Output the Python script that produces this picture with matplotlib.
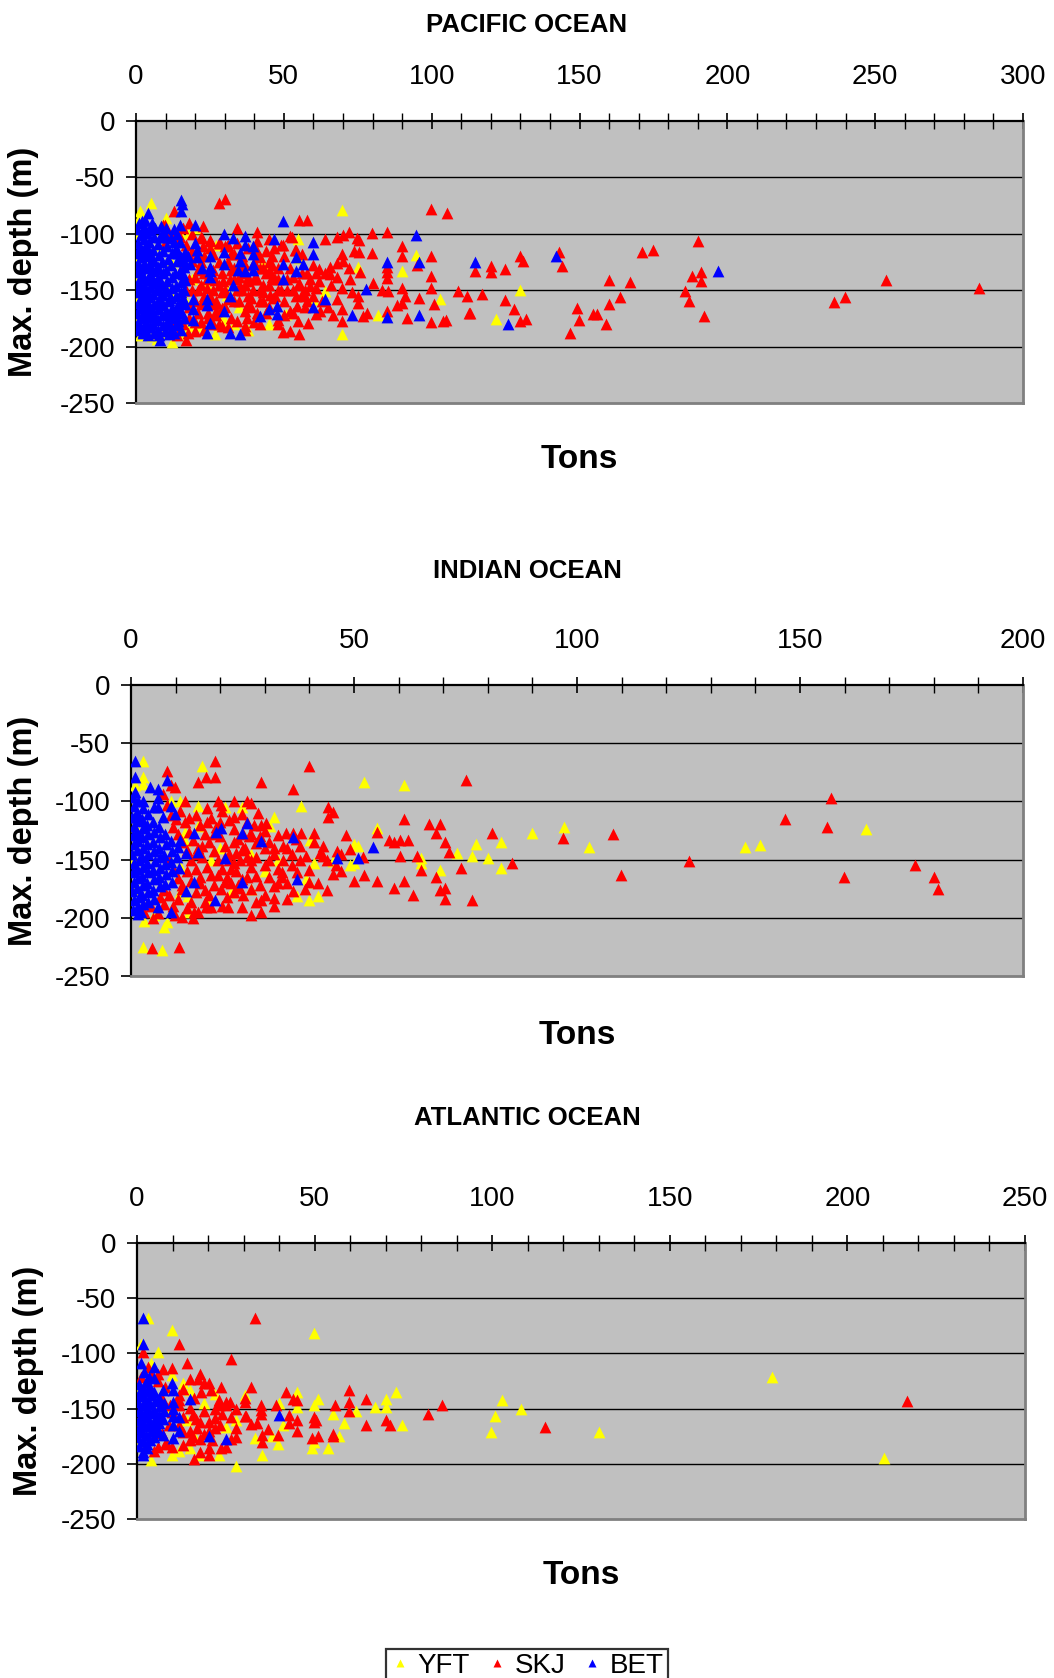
"""Max. fishing depth vs catch (tons) per set, by ocean and species (YFT/SKJ/BET).
Three stacked Excel-style scatter panels with the tonnage axis on top."""
import numpy as np
import matplotlib
matplotlib.use("Agg")
import matplotlib.pyplot as plt
from matplotlib.lines import Line2D
from matplotlib.ticker import MultipleLocator

plt.rcParams.update({"font.family": ["Liberation Sans", "DejaVu Sans"],
                     "axes.unicode_minus": False})

# ---------------- data: (tons, max depth in m) ----------------
PAC_YFT = [(5, -73), (1.4, -80), (0.8, -88), (0.3, -100), (0.2, -120), (0.2, -140), (0.3, -160),
           (0.4, -178), (1.5, -190), (5.5, -191), (12.1, -196), (9, -188), (13, -177), (16, -189),
           (18, -182), (21.6, -182), (26.7, -189), (29.3, -178), (29.3, -174), (14.9, -99.5),
           (18, -99.5), (10, -86), (11, -150), (17, -160), (19, -140), (30.7, -149), (30.7, -154),
           (27, -110), (35, -165), (38, -185), (43, -126), (55.1, -121.5), (54.9, -105), (45.1, -180),
           (50.7, -171.5), (59.8, -158), (63.9, -151), (69.8, -79), (69.8, -189), (75, -129.4),
           (81.7, -172.3), (89.9, -133), (94.7, -118.5), (102.8, -158.2), (121.7, -175.3),
           (130, -149.4), (12, -125), (8, -110), (22, -128), (3, -96), (7, -193), (20, -95),
           (24, -145), (33, -180)]
PAC_SKJ = [(17, -110), (18, -140), (19, -150), (20, -160), (21, -170), (22, -145), (23, -155),
           (24, -140), (26, -150), (27, -160), (28, -145), (29, -135), (30, -165), (31, -125),
           (32, -175), (33, -140), (34, -150), (35, -160), (36, -135), (37, -145), (38, -155),
           (39, -165), (40, -125), (41, -140), (42, -150), (43, -160), (44, -135), (45, -145),
           (46, -120), (47, -155), (48, -130), (49, -150), (50, -160), (51, -140), (52, -130),
           (53, -170), (55, -145), (57, -155), (58, -135), (61, -148), (26, -118), (28, -125),
           (31, -110), (33, -130), (36, -120), (38, -138), (41, -115), (43, -130), (46, -138),
           (23, -120), (21, -132), (19, -124), (20, -138), (22, -178), (27, -172), (29, -182),
           (33, -160), (37, -168), (40, -178), (44, -170), (48, -176), (16, -128), (17, -150),
           (18, -165), (16, -180), (14, -190), (12, -178), (11, -100), (13, -98), (22, -103),
           (25, -106), (28, -108), (30, -111), (34, -95), (41, -98), (45, -105), (49, -110),
           (52, -102), (54, -114), (55, -88), (58, -88), (12.9, -80), (28.2, -73), (30.1, -69.4),
           (99.8, -78), (105.1, -81.8), (63.9, -104.7), (67.9, -103), (70.1, -101), (72, -98.8),
           (74.6, -103.8), (75.3, -105.3), (79.9, -99.4), (84.8, -98.8), (89.9, -111),
           (89.9, -119.4), (94.9, -127.4), (99.8, -119.4), (79.9, -117), (69.8, -117.6),
           (73.7, -115.6), (75.3, -116.5), (75.8, -134), (84.8, -129.4), (84.8, -134), (84.8, -139),
           (99.8, -137.6), (60, -128), (62, -131), (65.6, -129), (67.9, -126), (70.1, -124.4),
           (72, -130), (65.6, -136), (67.9, -138), (72.4, -140), (80, -143.5), (83.1, -149.4),
           (85.3, -151), (89.9, -148), (91, -155.3), (95.8, -156.7), (99.8, -148), (109, -151),
           (111.8, -155.3), (100.9, -162.6), (112.7, -170), (88.2, -163.5), (89.9, -161),
           (84.8, -168.5), (91.5, -174.4), (99.8, -178.2), (104, -177.4), (105, -176.5),
           (78, -170.6), (76.9, -173), (69.8, -167), (69.8, -177), (66.7, -172), (75, -155),
           (75, -161), (69.8, -148), (72.9, -152), (62.2, -168.5), (61, -171.5), (54.9, -177),
           (58.1, -179), (55, -189), (49.8, -187), (52, -186), (55, -144), (57, -150), (59, -146),
           (56, -153), (54.3, -164), (48.1, -180.3), (41.9, -180.3), (36.9, -181.7), (37.4, -174.4),
           (20, -186), (16.9, -194.4), (24.5, -170), (24.5, -174.4), (27, -161), (29, -165.6),
           (31.8, -140), (35.2, -146.5), (38, -142), (39.7, -149.4), (43, -152), (45.3, -154),
           (46.4, -157), (29.5, -142), (26.7, -140.6), (40.8, -106.8), (42, -120.6), (45.3, -133.2),
           (46.8, -112.6), (25, -105.3), (25, -112.6), (28.4, -108.2), (30.7, -111.2),
           (22.2, -103.8), (22.8, -111.2), (9.2, -92), (9.8, -92), (22.8, -93.5), (49.8, -109.7),
           (52.7, -102.4), (53.8, -114), (9.2, -100.9), (9.8, -108.2),
           (15, -103), (16, -95), (18, -90), (19, -100), (21, -118), (22, -125), (23, -135),
           (24, -148), (25, -155), (26, -162), (27, -168), (28, -180), (30, -150), (31, -158),
           (32, -132), (33, -118), (34, -108), (35, -138), (36, -150), (37, -128), (38, -113),
           (39, -157), (40, -140), (41, -170), (42, -130), (43, -145), (44, -115), (45, -165),
           (46, -128), (47, -140), (48, -150), (50, -120), (51, -150), (52, -168), (53, -138),
           (54, -155), (56, -135), (57, -165), (59, -140), (60, -155), (62, -142), (63, -160),
           (64, -135), (66, -145), (68, -158), (18, -175), (20, -178), (23, -185), (26, -180),
           (31, -183), (34, -177), (37, -185), (17.5, -188), (19, -115), (21, -150), (22, -162),
           (26, -132), (29, -152), (32, -118), (35, -130), (38, -162), (42, -160), (45, -125),
           (48, -140), (50, -172), (53, -150), (56, -118), (58, -160), (61, -135), (65, -165),
           (114.8, -133.2), (119.9, -128.2), (119.9, -134.1), (124.9, -131.2), (130, -119.4),
           (130.9, -124.4), (116.9, -153), (124.9, -158.8), (127.9, -167), (130, -177.4),
           (132, -175.9), (113, -170), (143, -116.5), (144.1, -128.2), (160, -141.2), (167, -142.6),
           (163.8, -155.9), (160, -161.8), (149, -165.6), (149.9, -176.8), (154.7, -170.9),
           (156, -171.5), (159, -180.3), (146.9, -188.2), (171, -116.5), (175, -114.1),
           (190, -106.8), (188, -137.6), (191.2, -133.8), (191.2, -141.5), (185.8, -150.9),
           (187, -159.7), (192, -172.9), (236, -160.3), (239.8, -155.9), (253.8, -141.2),
           (285, -148.2)]
PAC_BET = [(0.4, -96), (0.6, -108), (0.3, -117), (0.7, -126), (0.4, -134), (0.6, -143), (0.3, -152),
           (0.7, -161), (0.4, -170), (0.6, -178), (0.5, -185), (1.6, -101), (1.4, -112), (1.7, -121),
           (1.3, -131), (1.6, -139), (1.4, -148), (1.7, -157), (1.3, -166), (1.6, -175), (1.5, -183),
           (2.6, -94), (2.8, -105), (2.4, -116), (2.7, -127), (2.5, -137), (2.8, -146), (2.4, -155),
           (2.7, -164), (2.5, -173), (2.6, -182), (2.3, -187), (3.7, -99), (3.5, -110), (3.8, -120),
           (3.4, -130), (3.6, -141), (3.7, -151), (3.5, -160), (3.8, -169), (3.4, -178), (4.7, -97),
           (4.5, -107), (4.8, -118), (4.4, -128), (4.6, -136), (4.9, -147), (4.5, -156), (4.7, -165),
           (4.4, -174), (4.7, -183), (6.1, -103), (5.8, -114), (6.2, -124), (5.9, -133), (6.3, -144),
           (5.8, -153), (6.1, -162), (6.0, -171), (5.9, -180), (6.2, -188), (7.4, -109), (7.7, -119),
           (7.3, -129), (7.6, -139), (7.5, -149), (7.8, -158), (7.3, -167), (7.6, -176), (7.4, -185),
           (8.8, -100), (9.1, -115), (8.9, -125), (9.2, -135), (8.7, -145), (9.0, -154), (9.3, -163),
           (8.8, -172), (9.1, -181), (10.4, -111), (10.7, -122), (10.3, -132), (10.6, -142),
           (10.5, -151), (10.8, -160), (10.4, -169), (10.6, -178), (11.9, -104), (12.2, -117),
           (11.8, -128), (12.1, -138), (12.3, -148), (11.9, -157), (12.2, -166), (12.0, -175),
           (12.1, -184), (13.4, -113), (13.7, -124), (13.3, -135), (13.6, -146), (13.5, -155),
           (13.8, -164), (13.4, -173), (13.6, -181), (15.0, -107), (15.2, -121), (14.8, -133),
           (15.1, -143), (15.3, -152), (14.9, -168), (16.6, -116), (16.4, -129), (16.7, -141),
           (16.5, -162), (1, -90), (2, -99), (3.2, -113), (5.3, -122), (6.8, -131), (8.2, -141),
           (9.7, -150), (11.2, -159), (12.7, -169), (14.2, -177), (1.1, -144), (3.1, -158),
           (5.2, -173), (7.9, -190), (9.8, -186), (13, -188), (14, -100), (12.8, -96), (10.2, -95),
           (8.3, -93), (6.5, -95), (5.5, -90), (3, -88), (8.1, -103), (10.1, -103), (12.9, -107),
           (14.3, -117), (16.1, -124), (15.8, -136), (16.3, -150), (15.9, -157), (16.2, -175),
           (5.4, -140), (6.9, -150), (8.3, -160), (9.7, -170), (11.1, -180), (4.1, -190),
           (15.1, -70), (15.5, -74), (15.1, -80), (4.2, -82), (1.9, -89), (14.9, -92),
           (20, -92), (8.1, -194), (11, -189), (15.1, -185), (2.3, -188), (4.7, -183), (14.9, -161),
           (15.4, -170), (20, -108), (20.5, -114), (20.5, -121), (17.7, -120), (18.3, -127),
           (22.2, -130), (25, -138), (25, -120), (25, -129), (25, -133), (24, -158), (24, -163),
           (19.4, -158), (19.4, -167), (19.4, -176), (25, -179), (24.1, -188), (29.9, -100),
           (32.9, -104), (36.9, -102), (46.8, -105), (49.8, -89), (29.9, -116), (29.9, -127),
           (35.2, -117), (35.2, -124), (36.9, -110), (39.7, -111), (39.7, -118), (34.6, -132),
           (36.9, -133), (39.7, -127), (39.7, -132), (32.9, -145), (31.8, -155), (29.9, -168),
           (31.8, -188), (35.2, -189), (42, -173), (45, -167), (47.6, -164), (47.6, -171),
           (49.8, -127), (49.8, -140), (54, -121), (56.6, -127), (54, -133), (59.8, -107),
           (59.8, -118), (64, -158), (59.8, -165), (72.9, -172), (77.8, -149), (84.8, -125),
           (84.8, -174), (94.7, -101), (95.8, -125), (95.8, -172), (114.8, -125), (125.8, -180),
           (142, -120), (197, -133)]

IND_YFT = [(2.8, -65.6), (16, -70), (2.8, -79.4), (2.8, -85), (52.3, -83.7), (61.3, -85.7),
           (38.2, -103.7), (21.1, -105), (24.9, -105), (32.1, -113), (31.1, -121), (40.1, -133),
           (55.1, -123), (90, -127), (97, -121.6), (77.3, -136.7), (82.9, -135), (49.9, -136.7),
           (50.9, -138.7), (73, -144.7), (76.4, -146.7), (80.1, -148.7), (82.9, -157), (65, -149),
           (65, -153), (69.3, -158.7), (45.2, -151), (49, -155), (50, -153), (41, -153),
           (39.2, -166.8), (40, -169), (37.3, -181), (40, -184.5), (42, -181), (26.8, -175.4),
           (22.5, -178), (13.1, -194.8), (2.6, -225), (7, -228), (7.4, -208), (102.8, -139.1),
           (137.7, -139.1), (141, -137.4), (164.9, -123.3), (0.9, -86), (0.9, -121), (0.5, -150),
           (0.6, -175), (9, -99.4), (10.9, -99.4), (15, -103.7), (15.1, -121), (12.1, -126.6),
           (12.1, -133.8), (10.9, -155.3), (10.9, -178), (12.7, -181), (5.2, -198), (18, -150),
           (20, -140), (27, -145), (30, -160), (33, -150), (17, -185), (8, -204), (3, -203)]
IND_SKJ = [(3, -195), (4.5, -190), (6, -196), (7.5, -188), (8.5, -180), (9.5, -190), (10.5, -184),
           (11.5, -175), (12.5, -192), (13.5, -186), (14.5, -178), (15.5, -170), (16.5, -186),
           (17.5, -180), (18.5, -172), (19.5, -163), (20.5, -190), (21.5, -182), (22.5, -170),
           (23.5, -160), (24.5, -150), (25.5, -140), (26.5, -130), (27.5, -120), (28.5, -110),
           (9.5, -122), (10.5, -128), (11.5, -135), (12.5, -142), (13.5, -150), (14.5, -158),
           (15.5, -165), (12, -118), (13, -126), (14, -133), (15, -140), (16, -148), (17, -156),
           (18, -163), (14.5, -112), (15.5, -120), (16.5, -128), (17.5, -135), (18.5, -143),
           (19.5, -150), (20.5, -158), (21.5, -165), (17, -106), (18, -114), (19, -122), (20, -130),
           (21, -138), (22, -145), (23, -153), (24, -172), (25, -180), (19.5, -100), (20.5, -108),
           (22, -116), (23, -124), (24, -132), (25, -140), (26, -148), (27, -156), (28, -164),
           (29, -172), (30, -180), (31, -150), (32, -140), (33, -158), (29, -130), (30, -140),
           (28, -148), (11, -108), (12, -100), (10, -115), (8, -103), (9, -112), (11.5, -199),
           (14, -200), (5, -200), (3.5, -188), (8, -73.6), (18.9, -65.6), (9, -86), (9.9, -87.4),
           (15, -83.7), (16.9, -79.4), (18.9, -79.4), (7.1, -93.7), (29.2, -83.7), (40, -69.3),
           (36.3, -89.4), (75, -81.7), (44.2, -105), (45.2, -109.5), (44.2, -113), (23.1, -99.4),
           (25.9, -99.4), (26.8, -101.4), (20.2, -103), (23.1, -113), (24.9, -111), (29.2, -120),
           (30.2, -118.6), (33, -129), (34.8, -127), (36.3, -127), (38.2, -127), (41, -127),
           (48.1, -129), (55.1, -126), (61.3, -115), (66.9, -119), (69.3, -119), (68.3, -127),
           (81, -127), (96.8, -131.3), (57.9, -133), (59, -134.7), (60.3, -133), (62.2, -133),
           (70.3, -135), (49.1, -141), (71.2, -143.3), (85.4, -153), (74, -157), (60.4, -146.7),
           (64.1, -146.7), (65, -158.7), (68.3, -165.3), (70.3, -174.8), (46.2, -143),
           (45.2, -162.5), (52.3, -163.3), (50, -168.8), (55.1, -168.8), (59, -174.8),
           (61.3, -168.8), (63.2, -180.5), (69.3, -176), (70.3, -184), (76.4, -184.5),
           (42.4, -144.4), (43, -146.7), (39.2, -146.7), (40, -158.7), (40, -169), (36.3, -176.8),
           (37.3, -161), (34.9, -184), (33.9, -161), (33.9, -165), (32.1, -172.5), (32.1, -182.8),
           (29.2, -184.5), (29.2, -194.8), (26.8, -198), (24.9, -191), (24.9, -167), (23.9, -174.8),
           (23.1, -177.6), (21.7, -191), (20.2, -175.4), (21.1, -169), (15.1, -194.8),
           (14.2, -194.8), (9.9, -198), (16.9, -191), (18, -191), (4.8, -226), (10.8, -225),
           (23, -135), (25, -142), (27, -128), (28, -136), (31, -135), (32, -145), (34, -150),
           (35, -140), (36, -155), (38, -138), (30, -155), (33, -170), (27, -150), (26, -165),
           (22, -150), (43, -138), (41, -135), (44, -150), (47, -145), (47, -160), (42, -170),
           (39, -175), (44, -176), (46, -155), (52, -148), (8.5, -150), (9.5, -158), (10.5, -166),
           (11.5, -172), (12.5, -160), (13.5, -168), (14.5, -145), (16, -138), (17, -118),
           (18.5, -128), (20, -118), (21, -148), (22.5, -158), (23.5, -144), (25, -128), (26, -118),
           (27, -175), (28, -186), (30, -125), (31, -165), (32, -190), (34, -138), (35, -170),
           (36, -145), (37, -132), (38, -150), (6.5, -182), (7.5, -176), (13, -114), (16.5, -176),
           (108, -127.6), (109.9, -163.2), (125, -151.1), (146.6, -115.2), (156.9, -97.4),
           (156, -121.6), (159.8, -165), (175.7, -154.9), (180, -165), (180.9, -175.3)]
IND_BET = [(0.4, -96), (0.6, -104), (0.3, -113), (0.7, -121), (0.4, -129), (0.6, -137), (0.3, -145),
           (0.7, -153), (0.4, -161), (0.6, -169), (0.3, -177), (0.7, -185), (0.5, -193), (1.6, -100),
           (1.4, -109), (1.7, -117), (1.3, -126), (1.6, -134), (1.4, -142), (1.7, -150), (1.3, -158),
           (1.6, -166), (1.4, -174), (1.7, -182), (1.5, -190), (1.6, -197), (2.7, -106), (2.5, -115),
           (2.8, -123), (2.4, -131), (2.7, -140), (2.5, -148), (2.8, -156), (2.4, -164), (2.7, -172),
           (2.5, -180), (2.6, -188), (3.8, -111), (3.6, -120), (3.9, -128), (3.5, -137), (3.8, -145),
           (3.6, -153), (3.9, -161), (3.5, -170), (3.8, -178), (3.7, -186), (5.0, -118), (5.2, -126),
           (4.9, -135), (5.1, -143), (5.3, -151), (4.9, -159), (5.2, -167), (5.0, -176), (5.1, -184),
           (6.3, -122), (6.5, -131), (6.2, -140), (6.6, -148), (6.4, -157), (6.2, -165), (6.5, -173),
           (7.6, -128), (7.8, -137), (7.5, -146), (7.7, -154), (7.9, -162), (7.6, -171), (9.0, -134),
           (9.2, -143), (8.9, -152), (9.1, -160), (9.3, -169), (10.5, -139), (10.4, -148),
           (10.7, -157), (0.9, -65.6), (0.9, -79.4), (8, -81.4), (4.3, -87.4), (6.1, -89.4),
           (0.9, -91.7), (2.8, -99.4), (5.2, -105), (6.1, -105), (9, -103.7), (6.1, -97.4),
           (7.1, -113), (0.9, -113), (9.9, -111), (14.2, -127), (19, -126.6), (20.2, -123),
           (24.9, -127), (25.9, -118.6), (10.9, -133), (15.1, -143.8), (12.4, -144.4), (21.1, -149),
           (14.1, -169), (12.4, -176.8), (18.9, -184.5), (9, -195.4), (6.1, -191), (2.2, -195.4),
           (24.9, -169), (29.2, -133.8), (36.3, -131), (37.3, -166.8), (46.3, -149), (50.9, -149),
           (54.2, -139)]

ATL_YFT = [(3, -67.5), (9.9, -79.2), (49.8, -81.3), (1.2, -91.3), (5.9, -99), (4, -109),
           (12.9, -126.5), (9.9, -120), (14.8, -133), (21.9, -136.4), (45.1, -134.6), (51, -141),
           (70, -141), (73, -134.6), (49.8, -147), (39.9, -144.6), (45.1, -148.8), (61.7, -152.4),
           (67, -148.8), (70, -148.8), (102.7, -142.5), (108, -150.6), (100.8, -156.6), (99.7, -171),
           (55.2, -154.5), (58.2, -162.7), (74.7, -164.5), (56.8, -174.7), (49.3, -186),
           (53.9, -186), (49.8, -180.7), (39.8, -182.5), (35.1, -192), (37.9, -174.7),
           (33.1, -176.5), (30.3, -138), (27.9, -202), (25, -166.6), (23.1, -192.2),
           (17.4, -191.6), (14.8, -186), (11.8, -188.6), (9.9, -192), (4, -196.7), (130, -170.8),
           (178.8, -121), (210.2, -194.6), (0.5, -130), (0.5, -160), (0.6, -182), (8, -150),
           (14, -160), (19, -145), (28, -160), (41, -165), (16, -175)]
ATL_SKJ = [(33.2, -67.5), (11.8, -91.3), (1.7, -99), (14.2, -109), (26.6, -104.8), (7.3, -113.9),
           (9.9, -113), (1.1, -121.4), (4, -119), (5.9, -119), (17.6, -119), (17.3, -123),
           (14.8, -123), (19, -126.5), (20.2, -126.5), (23.7, -130.7), (32, -130.7), (20.8, -133),
           (42, -134.6), (59.8, -132.8), (43.9, -141), (45.1, -142.5), (64.5, -141), (59.8, -144),
           (55.7, -146.4), (39.2, -146.4), (35, -146.4), (59.8, -152.4), (85.9, -146.4),
           (81.8, -154.5), (115, -166.6), (64.5, -164.5), (70, -160.5), (71.1, -164.5),
           (55.2, -172.6), (55.2, -174.7), (51, -174.7), (49.3, -176.2), (49.8, -158), (49.8, -162),
           (50.5, -160), (45.1, -160.5), (45.1, -170.5), (42.8, -156), (42.8, -162.6),
           (39.8, -174), (35.1, -174), (35.1, -180.7), (35, -151.5), (35, -154.5), (36.8, -168.7),
           (32, -163.6), (33.9, -162.7), (30.3, -157), (30.8, -157), (30.3, -140.4), (30.3, -144),
           (27.9, -150.6), (26.6, -158), (27.9, -168), (26.6, -177.7), (25, -184.6), (23.7, -186),
           (25, -144), (25, -147), (26.1, -144), (23, -142.5), (23, -147), (22, -150.6),
           (22, -158.4), (23.3, -164.5), (20.2, -192.2), (20.2, -186), (20.2, -162), (22, -168),
           (20.2, -170), (17.6, -189), (16, -196), (19, -172.6), (17.6, -177.7), (16.5, -159),
           (17, -168), (17.6, -162), (15.8, -156), (14.8, -149.4), (14.8, -170), (15.8, -176),
           (14.8, -178.6), (12.9, -183), (12.9, -158), (11.8, -165), (12.9, -171), (11.8, -147),
           (11.8, -142.5), (11.8, -138), (9.9, -153), (9.2, -147), (8.3, -180), (9.9, -184.6),
           (8.3, -182), (5.9, -184.6), (4.7, -188.6), (216.8, -143), (7, -140), (8, -130),
           (13, -132), (16, -140), (19, -152), (21, -178), (9, -165), (7, -172), (6, -125),
           (3, -112), (18, -135), (24, -155), (28, -176)]
ATL_BET = [(1.7, -67.5), (1.7, -91.3), (1.1, -109), (4.8, -112.7), (4.8, -122.3), (9.9, -126.5),
           (7.3, -133), (10.1, -133), (14.8, -141), (11.8, -157.5), (11.8, -170.5), (10.1, -144),
           (10.1, -150), (10.1, -157), (10.1, -165), (10.1, -177), (20.2, -174.4), (25, -177.7),
           (39.9, -156), (2.9, -186), (1.7, -192), (1.7, -189), (7.3, -174), (4.8, -165),
           (7.3, -159), (0.5, -128), (0.6, -136), (0.4, -144), (0.7, -152), (0.5, -160), (0.6, -168),
           (0.4, -176), (0.7, -184), (1.6, -131), (1.5, -139), (1.7, -147), (1.4, -155), (1.6, -163),
           (1.5, -171), (1.7, -179), (2.6, -126), (2.8, -134), (2.5, -142), (2.7, -150), (2.6, -158),
           (2.8, -166), (2.5, -174), (2.7, -182), (3.7, -130), (3.9, -138), (3.6, -146), (3.8, -154),
           (3.7, -162), (3.9, -170), (3.6, -178), (4.9, -135), (5.1, -143), (4.8, -151), (5.0, -159),
           (5.2, -168), (4.9, -176), (6.2, -140), (6.4, -148), (6.1, -156), (6.3, -163),
           (6.2, -171), (7.5, -145), (7.7, -152), (2.1, -117), (3.3, -121)]

SPECIES = ["YFT", "SKJ", "BET"]
COL = {"YFT": "#FFFF00", "SKJ": "#FF0000", "BET": "#0000FF"}

W, H = 1054, 1678
fig = plt.figure(figsize=(W / 100, H / 100), dpi=100)

def px_rect(l, t, r, b):
    return [l / W, 1 - b / H, (r - l) / W, (b - t) / H]

# name, plot box in px (l, t, r, b), x max, title y, ylabel x, "Tons" y, series
panels = [
    ("PACIFIC OCEAN", (136, 121, 1023, 403), 300, 25, 24, 459, (PAC_YFT, PAC_SKJ, PAC_BET)),
    ("INDIAN OCEAN", (131, 685, 1023, 976), 200, 571, 24, 1035, (IND_YFT, IND_SKJ, IND_BET)),
    ("ATLANTIC OCEAN", (137, 1243, 1025, 1519), 250, 1118, 29, 1575, (ATL_YFT, ATL_SKJ, ATL_BET)),
]

for title, box, xmax, ty, ylx, tony, series in panels:
    ax = fig.add_axes(px_rect(*box))
    ax.set_facecolor("#C0C0C0")
    for sp, data in zip(SPECIES, series):
        xy = np.array(data, dtype=float)
        ax.scatter(xy[:, 0], xy[:, 1], marker="^", s=72, color=COL[sp],
                   linewidths=0, zorder=3, clip_on=True)
    ax.set_xlim(0, xmax)
    ax.set_ylim(-250, 0)
    ax.xaxis.tick_top()
    ax.xaxis.set_major_locator(MultipleLocator(50))
    ax.xaxis.set_minor_locator(MultipleLocator(10))
    ax.yaxis.set_major_locator(MultipleLocator(50))
    ax.tick_params(axis="x", which="major", direction="inout", length=12, width=1.2,
                   labelsize=20, pad=16)
    ax.tick_params(axis="x", which="minor", direction="inout", length=11, width=1.0)
    ax.tick_params(axis="y", direction="out", length=7, width=1.2, labelsize=20, pad=8)
    for yv in (-50, -100, -150, -200):
        ax.axhline(yv, color="black", lw=1.0, zorder=1)
    ax.spines["top"].set_linewidth(1.6)
    ax.spines["left"].set_linewidth(1.6)
    for s in ("right", "bottom"):
        ax.spines[s].set_color("#808080")
        ax.spines[s].set_linewidth(2.0)
    l, t, r, b = box
    fig.text(0.5, 1 - ty / H, title, ha="center", va="center", fontsize=18.5, fontweight="bold")
    fig.text(((l + r) / 2) / W, 1 - tony / H, "Tons", ha="center", va="center",
             fontsize=24, fontweight="bold")
    fig.text(ylx / W, 1 - ((t + b) / 2) / H, "Max. depth (m)", ha="center", va="center",
             rotation=90, fontsize=23.5, fontweight="bold")

handles = [Line2D([], [], ls="none", marker="^", ms=6, mec="none", mfc=COL[s]) for s in SPECIES]
leg = fig.legend(handles, SPECIES, loc="upper center", bbox_to_anchor=(527 / W, 1 - 1649 / H),
                 ncol=3, fontsize=20, frameon=True, fancybox=False, edgecolor="black",
                 handlelength=0.7, handletextpad=0.3, columnspacing=0.6, borderpad=0.15,
                 borderaxespad=0)
leg.get_frame().set_linewidth(1.6)

fig.savefig("out.png", dpi=100)
print("Saved: out.png")
